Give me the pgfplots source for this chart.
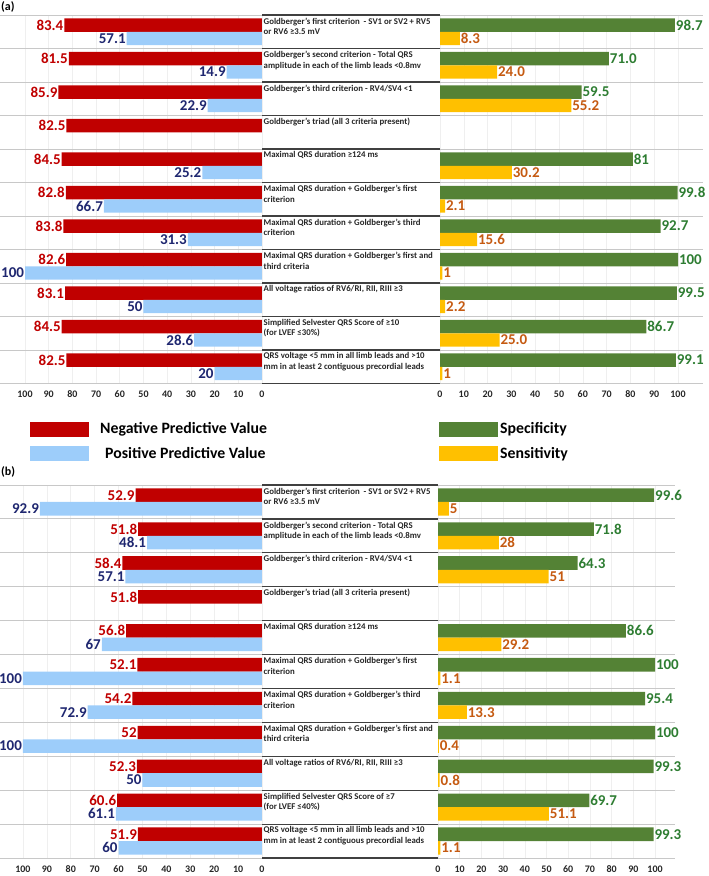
\documentclass[border=0pt]{standalone}
\usepackage{pgfplots}
\pgfplotsset{compat=1.18}
\usepackage{fontspec}
\setmainfont{Carlito}
\definecolor{npv}{HTML}{C00000}
\definecolor{ppv}{HTML}{9DCDFA}
\definecolor{spec}{HTML}{548235}
\definecolor{sens}{HTML}{FFC000}
\definecolor{npvt}{HTML}{C00000}
\definecolor{ppvt}{HTML}{1F2770}
\definecolor{spect}{HTML}{2E7D32}
\definecolor{senst}{HTML}{C55A11}
\definecolor{sepl}{HTML}{C8C8C8}
\definecolor{grd}{HTML}{EFEFEF}
\pgfplotsset{
  base/.style={
    scale only axis, anchor=north west,
    y dir=reverse, ymin=-0.5, ymax=10.5, xmin=0,
    axis line style={draw=none}, major tick length=0pt,
    ytick={-0.5,0.5,...,10.5}, yticklabels={},
    ymajorgrids, y grid style={sepl, line width=0.9pt},
    xtick={0,10,...,100}, xmajorgrids, x grid style={grd, line width=0.6pt},
    /pgf/number format/assume math mode=true,
    xticklabel style={font=\bfseries\fontsize{10}{10}\selectfont, text=black!85},
    xticklabel shift=4pt,
    clip=false, xbar, bar width=0.4,
    nodes near coords, point meta=explicit symbolic,
    every node near coord/.append style={font=\bfseries\fontsize{15}{15}\selectfont, inner xsep=0.8pt, inner ysep=0pt},
    legend style={draw=none, fill=none, inner sep=0pt, row sep=8pt, legend cell align=left,
      font=\bfseries\fontsize{15.8}{15.8}\selectfont, nodes={inner sep=2pt}},
  },
  leftp/.style={base, x dir=reverse, every node near coord/.append style={anchor=east}},
  rightp/.style={base, every node near coord/.append style={anchor=west}},
  boxleg/.style={legend image code/.code={\fill[##1] (0pt,-7.5pt) rectangle (59pt,7.5pt);}},
  mid/.style={scale only axis, anchor=north west, y dir=reverse, ymin=-0.5, ymax=10.5, xmin=0, xmax=1,
    axis line style={draw=none}, major tick length=0pt, xtick=\empty,
    ytick={-0.5,0.5,...,10.5}, yticklabels={}, ymajorgrids,
    y grid style={black!75, line width=1.2pt}, clip=false},
}
\tikzset{ctext/.style={anchor=north west, align=left, inner sep=0pt, xshift=1.5pt, yshift=-2.5pt,
  font=\bfseries\fontsize{8.8}{10.5}\selectfont, text=black!85}}
\begin{document}
\begin{tikzpicture}
\useasboundingbox (0pt,0pt) rectangle (709pt,-876pt);
\node[anchor=west, inner sep=0pt, font=\bfseries\fontsize{12}{12}\selectfont] at (1pt,-7pt) {(a)};
\node[anchor=west, inner sep=0pt, font=\bfseries\fontsize{12}{12}\selectfont] at (1pt,-472pt) {(b)};
% ---------------- (a) left
\begin{axis}[leftp, at={(0pt,-15pt)}, width=262pt, height=368.5pt, xmax=110.55,
  legend style={at={(axis description cs:0,0)}, anchor=north west, xshift=30pt, yshift=-37pt}]
\addplot[draw=none, fill=npv, bar shift=-0.2, boxleg, every node near coord/.append style={text=npvt}]
  coordinates {(83.4,0)[83.4] (81.5,1)[81.5] (85.9,2)[85.9] (82.5,3)[82.5] (84.5,4)[84.5] (82.8,5)[82.8]
  (83.8,6)[83.8] (82.6,7)[82.6] (83.1,8)[83.1] (84.5,9)[84.5] (82.5,10)[82.5]};
\addlegendentry{\hspace{9pt}Negative Predictive Value}
\addplot[draw=none, fill=ppv, bar shift=0.2, boxleg, every node near coord/.append style={text=ppvt}]
  coordinates {(57.1,0)[57.1] (14.9,1)[14.9] (22.9,2)[22.9] (25.2,4)[25.2] (66.7,5)[66.7]
  (31.3,6)[31.3] (100,7)[100] (50,8)[50] (28.6,9)[28.6] (20,10)[20]};
\addlegendentry{\hspace{14pt}Positive Predictive Value}
\end{axis}
% ---------------- (a) middle
\begin{axis}[mid, at={(262pt,-15pt)}, width=178pt, height=368.5pt]
\node[ctext] at (axis cs:0,-0.5) {Goldberger’s first criterion\ \ - SV1 or SV2 + RV5\\or RV6 ≥3.5 mV};
\node[ctext] at (axis cs:0,0.5) {Goldberger’s second criterion - Total QRS\\amplitude in each of the limb leads <0.8mv};
\node[ctext] at (axis cs:0,1.5) {Goldberger’s third criterion - RV4/SV4 <1};
\node[ctext] at (axis cs:0,2.5) {Goldberger’s triad (all 3 criteria present)};
\node[ctext] at (axis cs:0,3.5) {Maximal QRS duration ≥124 ms};
\node[ctext] at (axis cs:0,4.5) {Maximal QRS duration + Goldberger’s first\\criterion};
\node[ctext] at (axis cs:0,5.5) {Maximal QRS duration + Goldberger’s third\\criterion};
\node[ctext] at (axis cs:0,6.5) {Maximal QRS duration + Goldberger’s first and\\third criteria};
\node[ctext] at (axis cs:0,7.5) {All voltage ratios of RV6/RI, RII, RIII ≥3};
\node[ctext] at (axis cs:0,8.5) {Simplified Selvester QRS Score of ≥10\\(for LVEF ≤30\%)};
\node[ctext] at (axis cs:0,9.5) {QRS voltage <5 mm in all limb leads and >10\\mm in at least 2 contiguous precordial leads};
\end{axis}
% ---------------- (a) right
\begin{axis}[rightp, at={(440pt,-15pt)}, width=263pt, height=368.5pt, xmax=110.5,
  legend style={at={(axis description cs:0,0)}, anchor=north west, xshift=-1pt, yshift=-37pt}]
\addplot[draw=none, fill=spec, bar shift=-0.2, boxleg, every node near coord/.append style={text=spect}]
  coordinates {(98.7,0)[98.7] (71.0,1)[71.0] (59.5,2)[59.5] (81,4)[81] (99.8,5)[99.8]
  (92.7,6)[92.7] (100,7)[100] (99.5,8)[99.5] (86.7,9)[86.7] (99.1,10)[99.1]};
\addlegendentry{Specificity}
\addplot[draw=none, fill=sens, bar shift=0.2, boxleg, every node near coord/.append style={text=senst}]
  coordinates {(8.3,0)[8.3] (24.0,1)[24.0] (55.2,2)[55.2] (30.2,4)[30.2] (2.1,5)[2.1]
  (15.6,6)[15.6] (1,7)[1] (2.2,8)[2.2] (25.0,9)[25.0] (1,10)[1]};
\addlegendentry{Sensitivity}
\end{axis}
% ---------------- (b) left
\begin{axis}[leftp, at={(0pt,-485pt)}, width=262pt, height=373pt, xmax=109.6]
\addplot[draw=none, fill=npv, bar shift=-0.2, every node near coord/.append style={text=npvt}]
  coordinates {(52.9,0)[52.9] (51.8,1)[51.8] (58.4,2)[58.4] (51.8,3)[51.8] (56.8,4)[56.8] (52.1,5)[52.1]
  (54.2,6)[54.2] (52,7)[52] (52.3,8)[52.3] (60.6,9)[60.6] (51.9,10)[51.9]};
\addplot[draw=none, fill=ppv, bar shift=0.2, every node near coord/.append style={text=ppvt}]
  coordinates {(92.9,0)[92.9] (48.1,1)[48.1] (57.1,2)[57.1] (67,4)[67] (100,5)[100]
  (72.9,6)[72.9] (100,7)[100] (50,8)[50] (61.1,9)[61.1] (60,10)[60]};
\end{axis}
% ---------------- (b) middle
\begin{axis}[mid, at={(262pt,-485pt)}, width=176pt, height=373pt]
\node[ctext] at (axis cs:0,-0.5) {Goldberger’s first criterion\ \ - SV1 or SV2 + RV5\\or RV6 ≥3.5 mV};
\node[ctext] at (axis cs:0,0.5) {Goldberger’s second criterion - Total QRS\\amplitude in each of the limb leads <0.8mv};
\node[ctext] at (axis cs:0,1.5) {Goldberger’s third criterion - RV4/SV4 <1};
\node[ctext] at (axis cs:0,2.5) {Goldberger’s triad (all 3 criteria present)};
\node[ctext] at (axis cs:0,3.5) {Maximal QRS duration ≥124 ms};
\node[ctext] at (axis cs:0,4.5) {Maximal QRS duration + Goldberger’s first\\criterion};
\node[ctext] at (axis cs:0,5.5) {Maximal QRS duration + Goldberger’s third\\criterion};
\node[ctext] at (axis cs:0,6.5) {Maximal QRS duration + Goldberger’s first and\\third criteria};
\node[ctext] at (axis cs:0,7.5) {All voltage ratios of RV6/RI, RII, RIII ≥3};
\node[ctext] at (axis cs:0,8.5) {Simplified Selvester QRS Score of ≥7\\(for LVEF ≤40\%)};
\node[ctext] at (axis cs:0,9.5) {QRS voltage <5 mm in all limb leads and >10\\mm in at least 2 contiguous precordial leads};
\end{axis}
% ---------------- (b) right
\begin{axis}[rightp, at={(438pt,-485pt)}, width=237pt, height=373pt, xmax=109.2]
\addplot[draw=none, fill=spec, bar shift=-0.2, every node near coord/.append style={text=spect}]
  coordinates {(99.6,0)[99.6] (71.8,1)[71.8] (64.3,2)[64.3] (86.6,4)[86.6] (100,5)[100]
  (95.4,6)[95.4] (100,7)[100] (99.3,8)[99.3] (69.7,9)[69.7] (99.3,10)[99.3]};
\addplot[draw=none, fill=sens, bar shift=0.2, every node near coord/.append style={text=senst}]
  coordinates {(5,0)[5] (28,1)[28] (51,2)[51] (29.2,4)[29.2] (1.1,5)[1.1]
  (13.3,6)[13.3] (0.4,7)[0.4] (0.8,8)[0.8] (51.1,9)[51.1] (1.1,10)[1.1]};
\end{axis}
\end{tikzpicture}
\end{document}
